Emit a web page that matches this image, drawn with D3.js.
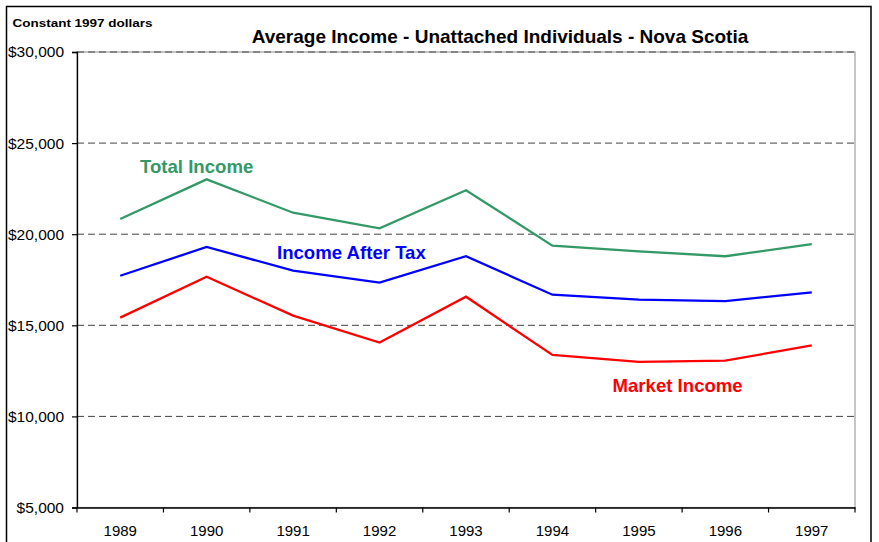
<!DOCTYPE html>
<html>
<head>
<meta charset="utf-8">
<script src="https://cdn.jsdelivr.net/npm/d3@7"></script>
<style>
  html, body { margin: 0; padding: 0; background: #fff; }
  text { font-family: Arial, "Liberation Sans", sans-serif; }
</style>
</head>
<body>
<svg id="chart" width="879" height="542"></svg>
<script>
const years = ["1989","1990","1991","1992","1993","1994","1995","1996","1997"];
const totalIncome    = [20830, 23010, 21180, 20320, 22410, 19370, 19060, 18790, 19450];
const afterTaxIncome = [17720, 19300, 18000, 17340, 18790, 16680, 16410, 16330, 16810];
const marketIncome   = [15420, 17670, 15530, 14050, 16570, 13370, 12990, 13060, 13900];
const yTicks = [5000, 10000, 15000, 20000, 25000, 30000];
const gridValues = [10000, 15000, 20000, 25000, 30000];

const series = [
  { name: "Total Income", values: totalIncome, color: "#339966", lx: 140, ly: 173 },
  { name: "Income After Tax", values: afterTaxIncome, color: "#0000FF", lx: 277, ly: 259 },
  { name: "Market Income", values: marketIncome, color: "#FF0000", lx: 612.5, ly: 392 }
];

const svg = d3.select("#chart");
const L = 77, R = 855, T = 52, B = 507.5;

// outer border
svg.append("rect").attr("x", 6.5).attr("y", 6.5).attr("width", 864.5).attr("height", 545)
  .attr("fill", "#fff").attr("stroke", "#000").attr("stroke-width", 1.5);

const x = d3.scaleBand().domain(years).range([L, R]).padding(0);
const y = d3.scaleLinear().domain([5000, 30000]).range([B, T]);

// plot area border (light gray)
svg.append("rect").attr("x", L).attr("y", T).attr("width", R - L).attr("height", B - T)
  .attr("fill", "none").attr("stroke", "#a0a0a0").attr("stroke-width", 1.2);

// gridlines
svg.append("g").selectAll("line").data(gridValues).join("line")
  .attr("x1", L).attr("x2", R)
  .attr("y1", d => y(d)).attr("y2", d => y(d))
  .attr("stroke", "#444").attr("stroke-width", 1)
  .attr("stroke-dasharray", "7,4");

// y axis
const yAxis = d3.axisLeft(y).tickValues(yTicks)
  .tickFormat(d => "$" + d3.format(",")(d)).tickSize(5).tickPadding(8);
const gy = svg.append("g").attr("transform", `translate(${L},0)`).call(yAxis);
gy.select(".domain").attr("stroke", "#000").attr("stroke-width", 1.3);
gy.selectAll(".tick line").attr("stroke", "#000").attr("stroke-width", 1.2);
gy.selectAll(".tick text").attr("font-size", 15.5).attr("fill", "#000")
  .attr("font-family", "Arial, 'Liberation Sans', sans-serif");

// x axis
const xAxis = d3.axisBottom(x).tickSize(0).tickPadding(0);
const gx = svg.append("g").attr("transform", `translate(0,${B})`).call(xAxis);
gx.select(".domain").attr("stroke", "#000").attr("stroke-width", 1.3);
gx.selectAll(".tick text").attr("font-size", 15).attr("fill", "#000")
  .attr("dy", 0).attr("y", 28.5)
  .attr("font-family", "Arial, 'Liberation Sans', sans-serif");
// boundary tick marks
const bounds = years.map(d => x(d)).concat([x(years[years.length - 1]) + x.bandwidth()]);
gx.selectAll(".btick").data(bounds).join("line").attr("class", "btick")
  .attr("x1", d => d).attr("x2", d => d).attr("y1", 0).attr("y2", 5)
  .attr("stroke", "#000").attr("stroke-width", 1.2);

// lines
const line = d3.line().x((d, i) => x(years[i]) + x.bandwidth() / 2).y(d => y(d));
svg.append("g").selectAll("path").data(series).join("path")
  .attr("d", d => line(d.values))
  .attr("fill", "none").attr("stroke", d => d.color).attr("stroke-width", 2.3)
  .attr("stroke-linejoin", "miter");

// series labels
svg.append("g").selectAll("text").data(series).join("text")
  .attr("x", d => d.lx).attr("y", d => d.ly)
  .attr("fill", d => d.color).attr("font-size", 18.6).attr("font-weight", "bold")
  .text(d => d.name);

// title
svg.append("text").attr("x", 500).attr("y", 43).attr("text-anchor", "middle")
  .attr("font-size", 19).attr("font-weight", "bold").attr("fill", "#000")
  .text("Average Income - Unattached Individuals - Nova Scotia");

// unit note
svg.append("text").attr("x", 12.5).attr("y", 27).attr("font-size", 11.5)
  .attr("font-weight", "bold").attr("fill", "#000")
  .attr("textLength", 140).attr("lengthAdjust", "spacingAndGlyphs")
  .text("Constant 1997 dollars");
</script>
</body>
</html>
